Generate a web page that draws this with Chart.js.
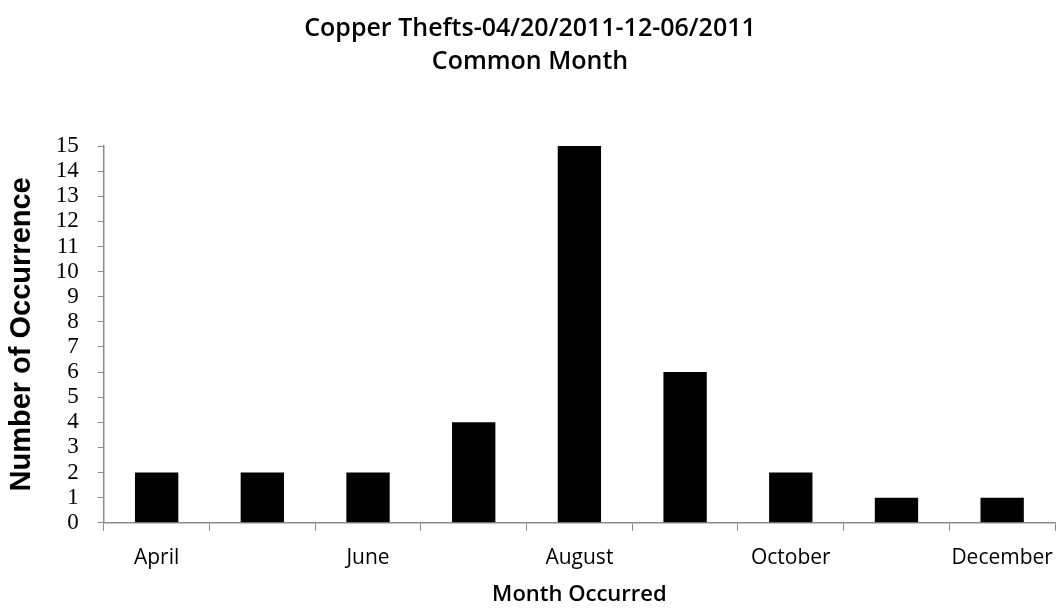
<!DOCTYPE html>
<html>
<head>
<meta charset="utf-8">
<script src="https://cdn.jsdelivr.net/npm/chart.js@4"></script>
<style>
    body { margin: 0; background: #fff; }
    #wrap { width: 1062px; height: 610px; }
</style>
</head>
<body>
<div id="wrap"><canvas id="theftChart"></canvas></div>
<script>
// Data
const months = ['April', 'May', 'June', 'July', 'August', 'September', 'October', 'November', 'December'];
const occurrences = [2, 2, 2, 4, 15, 6, 2, 1, 1];
const yMin = 0;
const yMax = 15;
const yStep = 1;

const axisGray = '#8c8c8c';

document.addEventListener("DOMContentLoaded", function() {
    const ctx = document.getElementById('theftChart').getContext('2d');

    new Chart(ctx, {
        type: 'bar',
        data: {
            labels: months,
            datasets: [{
                label: 'Occurrences',
                data: occurrences,
                backgroundColor: '#000000',
                borderWidth: 0,
                categoryPercentage: 1.0,
                barPercentage: 0.41
            }]
        },
        options: {
            responsive: true,
            maintainAspectRatio: false,
            animation: false,
            layout: {
                padding: { left: 5, right: 7, top: 0, bottom: 2 }
            },
            plugins: {
                legend: { display: false },
                tooltip: { enabled: false },
                title: {
                    display: true,
                    text: ['Copper Thefts-04/20/2011-12-06/2011', 'Common Month'],
                    color: '#000',
                    font: { family: 'Open Sans', size: 25, weight: '600', lineHeight: 1.3 },
                    padding: { top: 13, bottom: 68 }
                }
            },
            scales: {
                x: {
                    grid: {
                        display: true,
                        offset: true,
                        drawOnChartArea: false,
                        drawTicks: true,
                        tickLength: 8,
                        color: axisGray
                    },
                    border: { display: true, color: axisGray, width: 1.5 },
                    ticks: {
                        autoSkip: false,
                        maxRotation: 0,
                        color: '#000',
                        padding: 8,
                        // taller line box pushes the labels down like the original
                        font: { family: 'Open Sans', size: 21, lineHeight: 1.8 },
                        // only every other month is labelled
                        callback: function(value, index) {
                            return index % 2 === 0 ? months[index] : '';
                        }
                    },
                    title: {
                        display: true,
                        text: 'Month Occurred',
                        color: '#000',
                        font: { family: 'Open Sans', size: 22, weight: '600' },
                        padding: { top: -3, bottom: 0 }
                    }
                },
                y: {
                    min: yMin,
                    max: yMax,
                    grid: {
                        display: true,
                        drawOnChartArea: false,
                        drawTicks: true,
                        tickLength: 6,
                        color: axisGray
                    },
                    border: { display: true, color: axisGray, width: 1.5 },
                    ticks: {
                        stepSize: yStep,
                        autoSkip: false,
                        color: '#000',
                        padding: 19,
                        font: { family: 'Liberation Serif', size: 23 }
                    },
                    title: {
                        display: true,
                        text: 'Number of Occurrence',
                        color: '#000',
                        font: { family: 'Liberation Sans', size: 29, weight: 'bold' },
                        padding: { top: 0, bottom: -3 }
                    }
                }
            }
        }
    });
});
</script>
</body>
</html>
